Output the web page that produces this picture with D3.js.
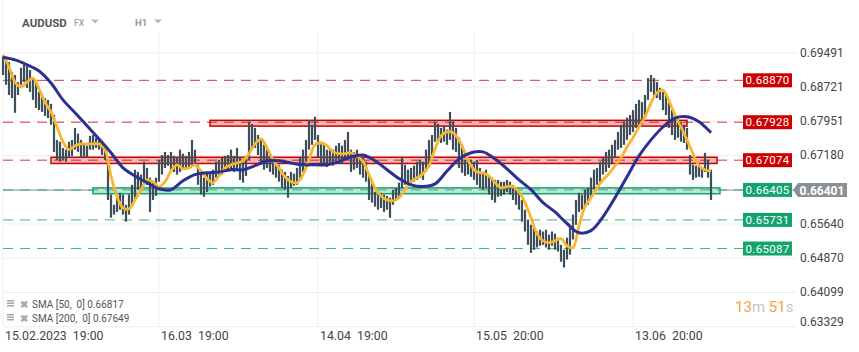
<!DOCTYPE html>
<html>
<head>
<meta charset="utf-8">
<script src="https://d3js.org/d3.v7.min.js"></script>
<style>
  body { margin:0; background:#fff; }
  svg text { font-family: Roboto, "Noto Sans", sans-serif; }
  .grid line { stroke:#efefef; stroke-width:1; }
</style>
</head>
<body>
<svg id="chart" width="859" height="352"></svg>
<script>
// AUDUSD H1, one bar ~ every 10 hours
const highs = [
  0.6942,0.6933,0.6928,0.6906,0.6899,0.6883,0.6915,0.6922,0.6919,0.6910,
  0.6892,0.6883,0.6861,0.6856,0.6847,0.6843,0.6834,0.6809,0.6753,0.6749,
  0.6735,0.6731,0.6749,0.6753,0.6780,0.6767,0.6753,0.6742,0.6740,0.6762,
  0.6764,0.6758,0.6753,0.6742,0.6735,0.6708,0.6630,0.6607,0.6623,0.6634,
  0.6630,0.6607,0.6630,0.6652,0.6686,0.6681,0.6675,0.6704,0.6690,0.6668,
  0.6659,0.6668,0.6708,0.6719,0.6726,0.6719,0.6726,0.6717,0.6713,0.6731,
  0.6722,0.6717,0.6726,0.6753,0.6731,0.6697,0.6681,0.6668,0.6677,0.6679,
  0.6686,0.6704,0.6708,0.6713,0.6717,0.6719,0.6731,0.6717,0.6735,0.6713,
  0.6708,0.6717,0.6794,0.6789,0.6780,0.6764,0.6753,0.6742,0.6731,0.6719,
  0.6713,0.6708,0.6697,0.6686,0.6681,0.6672,0.6681,0.6677,0.6690,0.6713,
  0.6731,0.6753,0.6798,0.6787,0.6805,0.6764,0.6749,0.6742,0.6731,0.6735,
  0.6731,0.6740,0.6746,0.6740,0.6753,0.6771,0.6731,0.6726,0.6731,0.6719,
  0.6713,0.6704,0.6675,0.6663,0.6636,0.6632,0.6634,0.6630,0.6627,0.6623,
  0.6641,0.6645,0.6657,0.6715,0.6697,0.6686,0.6690,0.6695,0.6704,0.6708,
  0.6704,0.6731,0.6753,0.6764,0.6794,0.6789,0.6780,0.6785,0.6776,0.6816,
  0.6794,0.6780,0.6758,0.6742,0.6708,0.6713,0.6708,0.6704,0.6708,0.6690,
  0.6681,0.6686,0.6672,0.6668,0.6663,0.6663,0.6659,0.6659,0.6663,0.6659,
  0.6652,0.6645,0.6636,0.6618,0.6596,0.6574,0.6562,0.6556,0.6547,0.6551,
  0.6547,0.6551,0.6540,0.6547,0.6542,0.6533,0.6517,0.6506,0.6533,0.6562,
  0.6585,0.6618,0.6634,0.6630,0.6641,0.6645,0.6668,0.6686,0.6690,0.6704,
  0.6713,0.6726,0.6731,0.6742,0.6753,0.6771,0.6787,0.6794,0.6803,0.6809,
  0.6820,0.6834,0.6843,0.6838,0.6854,0.6892,0.6899,0.6892,0.6883,0.6870,
  0.6861,0.6854,0.6836,0.6820,0.6809,0.6798,0.6794,0.6787,0.6780,0.6719,
  0.6697,0.6695,0.6697,0.6690,0.6724,0.6708,0.6686
];
const lows = [
  0.6899,0.6877,0.6854,0.6847,0.6814,0.6854,0.6877,0.6883,0.6870,0.6861,
  0.6843,0.6825,0.6820,0.6816,0.6807,0.6802,0.6787,0.6726,0.6708,0.6704,
  0.6708,0.6704,0.6713,0.6717,0.6731,0.6726,0.6713,0.6715,0.6713,0.6731,
  0.6731,0.6735,0.6731,0.6719,0.6708,0.6618,0.6578,0.6585,0.6591,0.6596,
  0.6585,0.6569,0.6585,0.6607,0.6618,0.6641,0.6645,0.6659,0.6652,0.6591,
  0.6618,0.6627,0.6659,0.6675,0.6690,0.6695,0.6686,0.6681,0.6675,0.6681,
  0.6686,0.6690,0.6690,0.6695,0.6699,0.6652,0.6630,0.6625,0.6636,0.6648,
  0.6652,0.6668,0.6672,0.6675,0.6681,0.6686,0.6686,0.6681,0.6686,0.6663,
  0.6657,0.6672,0.6708,0.6731,0.6735,0.6719,0.6697,0.6686,0.6690,0.6681,
  0.6675,0.6668,0.6659,0.6645,0.6641,0.6623,0.6645,0.6650,0.6652,0.6668,
  0.6681,0.6704,0.6731,0.6742,0.6753,0.6713,0.6697,0.6701,0.6692,0.6697,
  0.6695,0.6704,0.6708,0.6699,0.6713,0.6708,0.6681,0.6686,0.6690,0.6675,
  0.6668,0.6659,0.6618,0.6612,0.6603,0.6596,0.6600,0.6591,0.6596,0.6578,
  0.6607,0.6618,0.6623,0.6645,0.6652,0.6648,0.6652,0.6659,0.6663,0.6668,
  0.6663,0.6681,0.6697,0.6719,0.6749,0.6753,0.6746,0.6749,0.6742,0.6753,
  0.6731,0.6726,0.6690,0.6679,0.6672,0.6675,0.6670,0.6663,0.6652,0.6645,
  0.6641,0.6645,0.6630,0.6618,0.6612,0.6625,0.6627,0.6630,0.6636,0.6630,
  0.6618,0.6607,0.6596,0.6569,0.6547,0.6517,0.6499,0.6506,0.6511,0.6515,
  0.6517,0.6511,0.6506,0.6515,0.6506,0.6502,0.6479,0.6466,0.6484,0.6495,
  0.6529,0.6562,0.6591,0.6596,0.6600,0.6607,0.6623,0.6641,0.6652,0.6659,
  0.6675,0.6681,0.6690,0.6701,0.6713,0.6731,0.6735,0.6742,0.6753,0.6764,
  0.6771,0.6780,0.6787,0.6787,0.6803,0.6843,0.6861,0.6854,0.6847,0.6843,
  0.6820,0.6809,0.6780,0.6764,0.6753,0.6758,0.6749,0.6746,0.6731,0.6675,
  0.6663,0.6668,0.6670,0.6668,0.6681,0.6668,0.6618
];
// SMA 50, one value every 2nd bar
const sma50 = [
  0.6944,0.6917,0.6883,0.6872,0.6883,0.6892,0.6868,0.6838,0.6816,0.6782,
  0.6749,0.6731,0.6740,0.6744,0.6744,0.6744,0.6744,0.6731,0.6672,0.6625,
  0.6600,0.6598,0.6618,0.6641,0.6663,0.6659,0.6648,0.6659,0.6683,0.6697,
  0.6688,0.6690,0.6697,0.6683,0.6666,0.6657,0.6672,0.6690,0.6697,0.6701,
  0.6706,0.6722,0.6744,0.6755,0.6735,0.6708,0.6690,0.6670,0.6659,0.6657,
  0.6675,0.6708,0.6742,0.6746,0.6740,0.6726,0.6722,0.6722,0.6724,0.6717,
  0.6704,0.6675,0.6645,0.6627,0.6618,0.6616,0.6623,0.6641,0.6659,0.6668,
  0.6677,0.6695,0.6733,0.6762,0.6771,0.6769,0.6753,0.6724,0.6695,0.6681,
  0.6679,0.6672,0.6657,0.6645,0.6648,0.6648,0.6636,0.6612,0.6578,0.6542,
  0.6526,0.6522,0.6526,0.6531,0.6515,0.6511,0.6560,0.6603,0.6623,0.6645,
  0.6663,0.6677,0.6695,0.6713,0.6737,0.6758,0.6782,0.6805,0.6836,0.6859,
  0.6865,0.6841,0.6809,0.6782,0.6753,0.6722,0.6695,0.6686,0.6683
];
// SMA 200, one value every 4th bar
const sma200 = [
  0.6939,0.6933,0.6922,0.6908,0.6881,0.6843,0.6814,0.6785,0.6755,0.6724,
  0.6690,0.6672,0.6657,0.6643,0.6641,0.6661,0.6675,0.6679,0.6681,0.6686,
  0.6686,0.6695,0.6706,0.6706,0.6701,0.6697,0.6697,0.6697,0.6704,0.6715,
  0.6719,0.6706,0.6686,0.6666,0.6652,0.6648,0.6654,0.6683,0.6710,0.6724,
  0.6726,0.6710,0.6688,0.6663,0.6641,0.6612,0.6591,0.6565,0.6544,0.6549,
  0.6580,0.6623,0.6670,0.6717,0.6753,0.6782,0.6802,0.6805,0.6794,0.6769
];
const priceTicks = [0.69491, 0.68721, 0.67951, 0.67180, 0.66410, 0.65640, 0.64870, 0.64099, 0.63329];
const dateLabels = ["15.02.2023  19:00", "16.03  19:00", "14.04  19:00", "15.05  20:00", "13.06  20:00"];
const dateBars = [0, 52, 105, 157, 210];
const levels = [0.68870, 0.67928, 0.67074, 0.66405, 0.65731, 0.65087];
const levelKind = ['res', 'res', 'res', 'sup', 'sup', 'sup'];
const zones = [
  {hi:0.6797, lo:0.6784, from:69, to:228, kind:'res'},
  {hi:0.6714, lo:0.6700, from:16, to:238, kind:'res'},
  {hi:0.6645, lo:0.6632, from:30, to:239, kind:'sup'}
];
const lastPrice = 0.66401;
const smaLegend = ["SMA [50,  0] 0.66817", "SMA [200,  0] 0.67649"];

const col = {
  res:'#cc0000', resFill:'#f3b8b8',
  sup:'#12a46c', supFill:'#bfe6d5',
  bars:'#3f4f5a', sma50:'#f9b52c', sma200:'#2c3191'
};

const svg = d3.select('svg#chart');
const plotLeft = 3, plotRight = 797, labelX = 743;

const y = d3.scaleLinear().domain([0.63329, 0.69491]).range([326.7, 52.7]);
const x = d3.scaleLinear().domain([0, highs.length - 1]).range([3, 711]);

// grid
const grid = svg.append('g').attr('class', 'grid');
grid.selectAll('line.h').data(priceTicks).join('line')
    .attr('class', 'h')
    .attr('x1', plotLeft).attr('x2', plotRight)
    .attr('y1', d => y(d)).attr('y2', d => y(d));
grid.selectAll('line.v').data(dateBars).join('line')
    .attr('class', 'v')
    .attr('x1', d => x(d)).attr('x2', d => x(d))
    .attr('y1', (d, i) => i == 0 ? 0 : 32).attr('y2', 326);

// current price line
svg.append('line')
   .attr('x1', plotLeft).attr('x2', 793)
   .attr('y1', y(lastPrice)).attr('y2', y(lastPrice))
   .attr('stroke', '#8e959a').attr('stroke-width', 1);

// zones
svg.selectAll('rect.zone').data(zones).join('rect')
   .attr('class', 'zone')
   .attr('x', d => x(d.from)).attr('width', d => x(d.to) - x(d.from))
   .attr('y', d => y(d.hi)).attr('height', d => y(d.lo) - y(d.hi))
   .attr('fill', d => col[d.kind + 'Fill'])
   .attr('stroke', d => col[d.kind]).attr('stroke-width', 1.5);

// level lines
svg.selectAll('line.level').data(levels).join('line')
   .attr('class', 'level')
   .attr('x1', plotLeft).attr('x2', labelX)
   .attr('y1', d => y(d)).attr('y2', d => y(d))
   .attr('stroke', (d, i) => col[levelKind[i]])
   .attr('stroke-opacity', 0.8)
   .attr('stroke-dasharray', '10,7');

// price bars
svg.append('g').selectAll('line').data(highs).join('line')
   .attr('x1', (d, i) => x(i)).attr('x2', (d, i) => x(i))
   .attr('y1', d => y(d)).attr('y2', (d, i) => y(lows[i]))
   .attr('stroke', col.bars).attr('stroke-width', 2.2);

// moving averages
const line50 = d3.line().x((d, i) => x(i * 2)).y(d => y(d)).curve(d3.curveCatmullRom);
const line200 = d3.line().x((d, i) => x(i * 4)).y(d => y(d)).curve(d3.curveCatmullRom);
svg.append('path').attr('d', line50(sma50))
   .attr('fill', 'none').attr('stroke', col.sma50).attr('stroke-width', 2.8);
svg.append('path').attr('d', line200(sma200))
   .attr('fill', 'none').attr('stroke', col.sma200).attr('stroke-width', 3);

// price axis
svg.selectAll('text.ptick').data(priceTicks).join('text')
   .attr('class', 'ptick')
   .attr('x', 800).attr('y', d => Math.min(y(d), 322) + 4)
   .attr('font-size', 12).attr('fill', '#444')
   .text(d => d.toFixed(5));

// level labels
const lab = svg.selectAll('g.lab').data(levels).join('g').attr('class', 'lab')
   .attr('transform', d => `translate(${labelX},${y(d)})`);
lab.append('rect').attr('x', 0).attr('y', -7).attr('width', 49).attr('height', 14)
   .attr('fill', (d, i) => col[levelKind[i]]);
lab.append('text').attr('x', 24.5).attr('y', 4).attr('text-anchor', 'middle')
   .attr('font-size', 11.5).attr('fill', '#fff').attr('letter-spacing', 0.3)
   .text(d => d.toFixed(5));

// last price tag
const ly = y(lastPrice);
svg.append('path')
   .attr('d', `M793,${ly} L798,${ly - 7} L847,${ly - 7} L847,${ly + 7} L798,${ly + 7} Z`)
   .attr('fill', '#8a9196');
svg.append('text').attr('x', 822).attr('y', ly + 4.5).attr('text-anchor', 'middle')
   .attr('font-size', 12).attr('font-weight', 'bold').attr('fill', '#fff')
   .text(lastPrice.toFixed(5));

// date axis
svg.selectAll('text.dtick').data(dateLabels).join('text')
   .attr('class', 'dtick')
   .attr('x', (d, i) => x(dateBars[i]) + 2).attr('y', 340)
   .attr('font-size', 12.3).attr('fill', '#444')
   .style('white-space', 'pre')
   .text(d => d);

// header
svg.append('text').attr('x', 22).attr('y', 27).attr('font-size', 11.5)
   .attr('font-weight', 'bold').attr('fill', '#555').text('AUDUSD');
svg.append('text').attr('x', 74).attr('y', 26).attr('font-size', 8.5)
   .attr('font-weight', 'bold').attr('fill', '#aaa').text('FX');
svg.append('text').attr('x', 135).attr('y', 26).attr('font-size', 9.5)
   .attr('font-weight', 'bold').attr('fill', '#999').text('H1');
[91, 154].forEach(tx => {
  svg.append('path').attr('d', `M${tx},19.5 L${tx + 8},19.5 L${tx + 4},23.5 Z`).attr('fill', '#bbb');
});

// legend
smaLegend.forEach((t, i) => {
  const ty = 308 + i * 14;
  const g = svg.append('g');
  [0, 2.5, 5].forEach(o => g.append('rect').attr('x', 7).attr('y', ty - 8 + o)
      .attr('width', 7).attr('height', 1.5).attr('fill', '#a8a8a8'));
  g.append('text').attr('x', 20).attr('y', ty).attr('font-size', 9.5)
   .attr('fill', '#a8a8a8').attr('font-weight', 'bold').text('\u2716');
  g.append('text').attr('x', 32).attr('y', ty).attr('font-size', 10)
   .attr('fill', '#555').style('white-space', 'pre').text(t);
});

// countdown
const cd = svg.append('text').attr('x', 735).attr('y', 312).attr('font-size', 15);
cd.append('tspan').attr('fill', '#f6a23a').text('13');
cd.append('tspan').attr('fill', '#c4c4c4').text('m ');
cd.append('tspan').attr('fill', '#f6a23a').text('51');
cd.append('tspan').attr('fill', '#c4c4c4').text('s');
</script>
</body>
</html>
